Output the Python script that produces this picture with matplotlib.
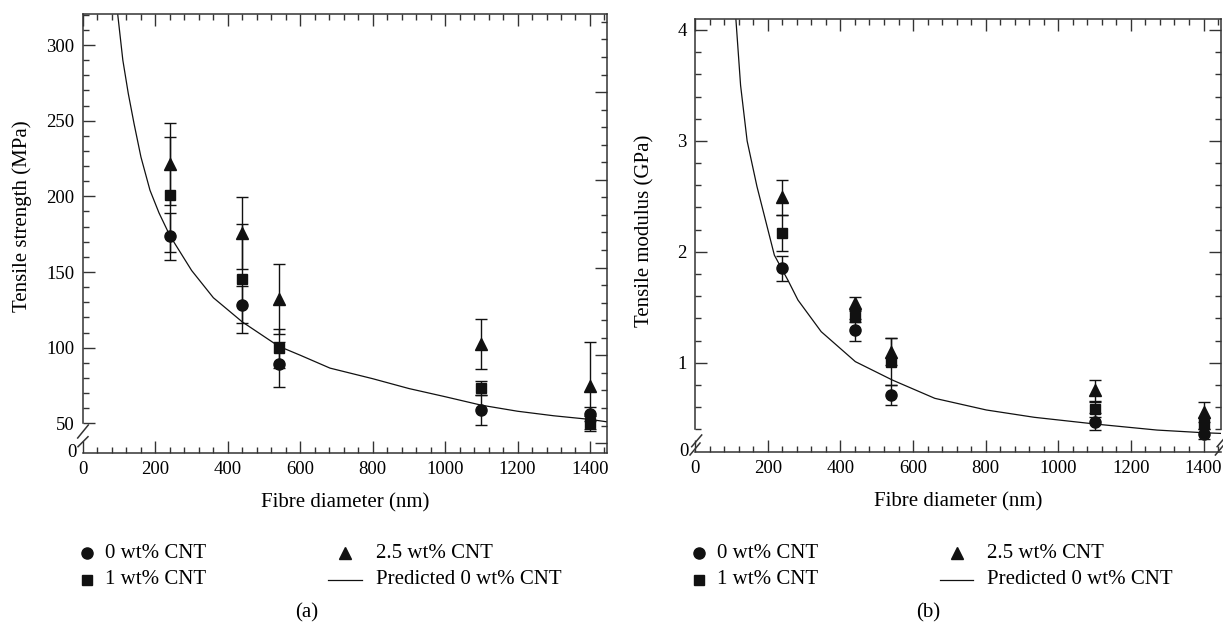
import matplotlib
matplotlib.use("Agg")
import matplotlib.pyplot as plt
from matplotlib.ticker import FixedLocator, MultipleLocator, NullFormatter
from matplotlib.lines import Line2D

plt.rcParams['font.family'] = ['Liberation Serif', 'DejaVu Serif']
plt.rcParams['font.size'] = 13.5

# ---------------- data ----------------
diameter = [240, 440, 540, 1100, 1400]

strength_0 = [173.5, 128.5, 89, 59, 56]
strength_0_err = [15.5, 12, 15, 10, 4.6]
strength_1 = [201, 145.5, 99.5, 73.5, 50]
strength_1_err = [38, 36, 13, 4.5, 5]
strength_25 = [221.5, 176, 132, 102.5, 75]
strength_25_err = [27, 23.8, 23, 16.6, 29]

modulus_0 = [1.85, 1.295, 0.71, 0.47, 0.36]
modulus_0_err = [0.114, 0.097, 0.09, 0.075, 0.045]
modulus_1 = [2.17, 1.414, 1.01, 0.58, 0.45]
modulus_1_err = [0.16, 0.05, 0.21, 0.07, 0.05]
modulus_25 = [2.49, 1.535, 1.10, 0.75, 0.56]
modulus_25_err = [0.157, 0.06, 0.12, 0.096, 0.09]

pred_strength_d = [96, 110, 125, 141, 160, 185, 210, 240, 300, 360, 440, 540, 600,
                   682, 800, 900, 1000, 1100, 1200, 1300, 1400, 1447]
pred_strength = [320, 290, 268, 248, 226, 204, 189, 174, 151, 133, 117, 101, 95,
                 86.5, 79.5, 73, 67.6, 62, 58, 55, 52.6, 51]

pred_modulus_d = [112, 125, 143, 170, 218, 256, 283, 347, 441, 543, 660, 802, 934,
                  1103, 1272, 1400, 1447]
pred_modulus = [4.1, 3.5, 3.0, 2.59, 1.97, 1.74, 1.565, 1.28, 1.01, 0.844, 0.679,
                0.574, 0.508, 0.447, 0.393, 0.369, 0.363]

legend_labels = ['0 wt% CNT', '1 wt% CNT', '2.5 wt% CNT', 'Predicted 0 wt% CNT']

# ---------------- figure ----------------
W, H = 1223, 626
fig = plt.figure(figsize=(W / 100, H / 100), dpi=100)

SPINE = '#333333'
INK = '#111111'
TICK_FS = 13.5
LABEL_FS = 15
LEG_FS = 15


def fx(px):
    return px / W


def fy(py):
    return 1 - py / H


def make_axes(left, right, top, bottom):
    return fig.add_axes([fx(left), fy(bottom), fx(right - left), (bottom - top) / H])


def style(ax, ylo, yhi, major, minor_step, spine_low, show_right=True):
    ax.set_xlim(0, 1447)
    ax.set_ylim(ylo, yhi)
    for s in ax.spines.values():
        s.set_color(SPINE)
        s.set_linewidth(1.1)
    ax.spines['left'].set_bounds(spine_low, yhi)
    ax.xaxis.set_major_locator(MultipleLocator(200))
    ax.xaxis.set_minor_locator(MultipleLocator(40))
    ax.yaxis.set_major_locator(FixedLocator(major))
    mins = []
    v = spine_low
    while v <= yhi + 1e-9:
        mins.append(v)
        v += minor_step
    ax.yaxis.set_minor_locator(FixedLocator(mins))
    ax.tick_params(which='both', direction='in', colors=SPINE, labelcolor='black',
                   top=True, right=show_right, width=1.0, pad=6, labelsize=TICK_FS)
    ax.tick_params(which='major', length=8.5)
    ax.tick_params(which='minor', length=4.3)
    ax.text(-0.012, 0, '0', transform=ax.transAxes, ha='right', va='center', fontsize=TICK_FS)


def breaks(ax, left, bottom, width, height, spine_x, segs):
    for (x0, y0, x1, y1) in segs:
        ax.plot([(spine_x + x0 - left) / width, (spine_x + x1 - left) / width],
                [(bottom - y0) / height, (bottom - y1) / height],
                transform=ax.transAxes, color=SPINE, lw=1.1, clip_on=False)


def plot_series(ax, ys, errs, pred_x, pred_y):
    mk = [('o', 8), ('s', 7.5), ('^', 9)]
    for (y, e), (m, ms) in zip(zip(ys, errs), mk):
        ax.errorbar(diameter, y, yerr=e, fmt=m, ms=ms, color=INK, ecolor=INK,
                    elinewidth=1.0, capsize=4.3, capthick=1.0, zorder=3)
    ax.plot(pred_x, pred_y, color=INK, lw=0.9, zorder=2)


def legend(x_m1, x_t1, x_m2, x_t2, line_x0, line_x1, y1, y2):
    fig.add_artist(Line2D([fx(x_m1)], [fy(y1)], marker='o', ms=8, color=INK, ls='none'))
    fig.add_artist(Line2D([fx(x_m1)], [fy(y2)], marker='s', ms=7.5, color=INK, ls='none'))
    fig.add_artist(Line2D([fx(x_m2)], [fy(y1)], marker='^', ms=9, color=INK, ls='none'))
    fig.add_artist(Line2D([fx(line_x0), fx(line_x1)], [fy(y2), fy(y2)], color=INK, lw=0.9))
    fig.text(fx(x_t1), fy(y1), legend_labels[0], ha='left', va='center', fontsize=LEG_FS)
    fig.text(fx(x_t1), fy(y2), legend_labels[1], ha='left', va='center', fontsize=LEG_FS)
    fig.text(fx(x_t2), fy(y1), legend_labels[2], ha='left', va='center', fontsize=LEG_FS)
    fig.text(fx(x_t2), fy(y2), legend_labels[3], ha='left', va='center', fontsize=LEG_FS)


# ---------- panel (a) ----------
aL, aR, aT, aB = 83, 607, 14, 452.7
axa = make_axes(aL, aR, aT, aB)
plot_series(axa, [strength_0, strength_1, strength_25],
            [strength_0_err, strength_1_err, strength_25_err],
            pred_strength_d, pred_strength)
style(axa, 30.6, 320.5, [50, 100, 150, 200, 250, 300], 10, 50, show_right=False)
axa.set_xlabel('Fibre diameter (nm)', fontsize=LABEL_FS, labelpad=11)
axa.set_ylabel('Tensile strength (MPa)', fontsize=LABEL_FS)
axa.yaxis.set_label_coords(-0.097, 0.54)
breaks(axa, aL, aB, aR - aL, aB - aT, aL,
       [(-5.3, 438, 5.3, 425), (-5.0, 446.7, 5.0, 436.7)])
# independent right-hand scale ticks (unlabelled)
axa2 = axa.twinx()
axa2.set_ylim(-0.11, 4.89)
axa2.yaxis.set_major_locator(MultipleLocator(1))
axa2.yaxis.set_minor_locator(MultipleLocator(0.2))
axa2.yaxis.set_major_formatter(NullFormatter())
axa2.tick_params(which='both', direction='in', colors=SPINE, width=1.0)
axa2.tick_params(which='major', length=8.5)
axa2.tick_params(which='minor', length=4.3)
for s in axa2.spines.values():
    s.set_visible(False)

# ---------- panel (b) ----------
bL, bR, bT, bB = 695.2, 1220.6, 19.3, 451.7
axb = make_axes(bL, bR, bT, bB)
plot_series(axb, [modulus_0, modulus_1, modulus_25],
            [modulus_0_err, modulus_1_err, modulus_25_err],
            pred_modulus_d, pred_modulus)
style(axb, 0.198, 4.096, [1, 2, 3, 4], 0.2, 0.4)
axb.spines['right'].set_bounds(0.4, 4.096)
axb.set_xlabel('Fibre diameter (nm)', fontsize=LABEL_FS, labelpad=11)
axb.set_ylabel('Tensile modulus (GPa)', fontsize=LABEL_FS)
axb.yaxis.set_label_coords(-0.077, 0.51)
segs_b = [(-3.5, 446.7, 6.5, 435), (-5.2, 455, 4.8, 443)]
breaks(axb, bL, bB, bR - bL, bB - bT, bL, segs_b)
breaks(axb, bL, bB, bR - bL, bB - bT, bR, segs_b)

# ---------- legends and panel letters ----------
legend(87, 104.7, 344.7, 375.5, 328, 362, 553, 580)
legend(699, 717.4, 957, 987, 940, 973, 553, 580)
fig.text(fx(307), fy(613), '(a)', ha='center', va='center', fontsize=LEG_FS)
fig.text(fx(928), fy(613), '(b)', ha='center', va='center', fontsize=LEG_FS)

fig.savefig('out.png', dpi=100)
